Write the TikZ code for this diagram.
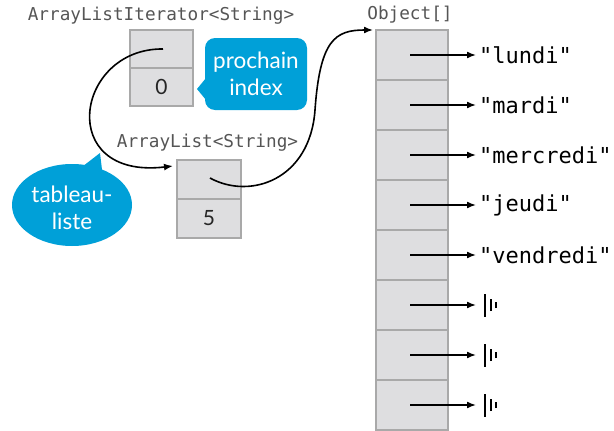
\documentclass[tikz,border=0pt]{standalone}
\usepackage{fontspec}
\setmonofont{DejaVu Sans Mono}
\newfontfamily\callfont{Lato}
\usetikzlibrary{arrows.meta,shapes.geometric}
\definecolor{cellfill}{HTML}{DEDEE0}
\definecolor{cellline}{HTML}{A9A9A9}
\definecolor{callblue}{HTML}{00A0D8}
\definecolor{lblgray}{HTML}{555555}
\tikzset{
  cell/.style={draw=cellline, fill=cellfill, line width=2pt, inner sep=0pt, font=\callfont\fontsize{21}{21}\selectfont, text=black!85},
  itercell/.style={cell, minimum width=63pt, minimum height=38pt},
  listcell/.style={cell, minimum width=64pt, minimum height=39pt},
  arrcell/.style={cell, minimum width=72pt, minimum height=50pt},
  typelbl/.style={font=\ttfamily\fontsize{17.7}{17.7}\selectfont, text=lblgray, inner sep=0pt},
  strlbl/.style={font=\ttfamily\fontsize{22}{22}\selectfont, text=black, inner sep=0pt, anchor=west},
  ref/.style={line width=1.6pt, -{Latex[length=9pt,width=7pt]}},
  calltext/.style={font=\callfont\fontsize{22.5}{27}\selectfont, text=white, align=center, inner sep=0pt},
}
\begin{document}
\begin{tikzpicture}[x=1pt,y=-1pt]
\useasboundingbox (0,0) rectangle (614,431);
% iterator
\node[typelbl] (itlbl) at (161,16) {ArrayListIterator<String>};
\node[itercell] (it1) at (161.5,49) {};
\node[itercell] (it2) at (161.5,87) {0};
% callout prochain index
\fill[callblue, rounded corners=10pt] (205,38) rectangle (307,110);
\fill[callblue] (206,78) -- (197,89) -- (206,100) -- cycle;
\node[calltext] (pi) at (256,74) {prochain\\index};
% arraylist
\node[typelbl] (allbl) at (207.5,143) {ArrayList<String>};
\node[listcell] (al1) at (209,179.5) {};
\node[listcell] (al2) at (209,218.5) {5};
% callout tableau-liste
\fill[callblue] (72,205) ellipse [x radius=60, y radius=41];
\fill[callblue] (78,170) -- (100,153) -- (103,178) -- cycle;
\node[calltext] (tl) at (72,208) {tableau-\\liste};
% object array
\node[typelbl] (oblbl) at (410,15) {Object[]};
\foreach \i in {1,...,8} {
  \node[arrcell] (o\i) at (412,{5+50*\i}) {};
  \coordinate (s\i) at (410,{5+50*\i});
  \coordinate (e\i) at (476,{5+50*\i});
  \draw[ref] (s\i) -- (e\i);
}
\node[strlbl] (t1) at (479,55) {"lundi"};
\node[strlbl] (t2) at (479,105) {"mardi"};
\node[strlbl] (t3) at (479,155) {"mercredi"};
\node[strlbl] (t4) at (479,205) {"jeudi"};
\node[strlbl] (t5) at (479,255) {"vendredi"};
\foreach \i in {6,7,8} {
  \draw[line width=2.6pt] ([xshift=9pt,yshift=-11.5pt]e\i) -- ([xshift=9pt,yshift=11.5pt]e\i);
  \draw[line width=1.8pt] ([xshift=15pt,yshift=-6pt]e\i) -- ([xshift=15pt,yshift=6pt]e\i);
  \draw[line width=1.8pt] ([xshift=20pt,yshift=-3pt]e\i) -- ([xshift=20pt,yshift=3pt]e\i);
}
% references
\coordinate (itp) at (163,49);
\coordinate (alin) at (173,166);
\draw[ref] (itp) .. controls (75,48) and (55,180) .. (alin);
\coordinate (alp) at (210,178);
\coordinate (obin) at (373,30);
\draw[ref] (alp) .. controls (250,200) and (310,180) .. (315,110) .. controls (320,40) and (335,30) .. (obin);
\end{tikzpicture}
\end{document}
